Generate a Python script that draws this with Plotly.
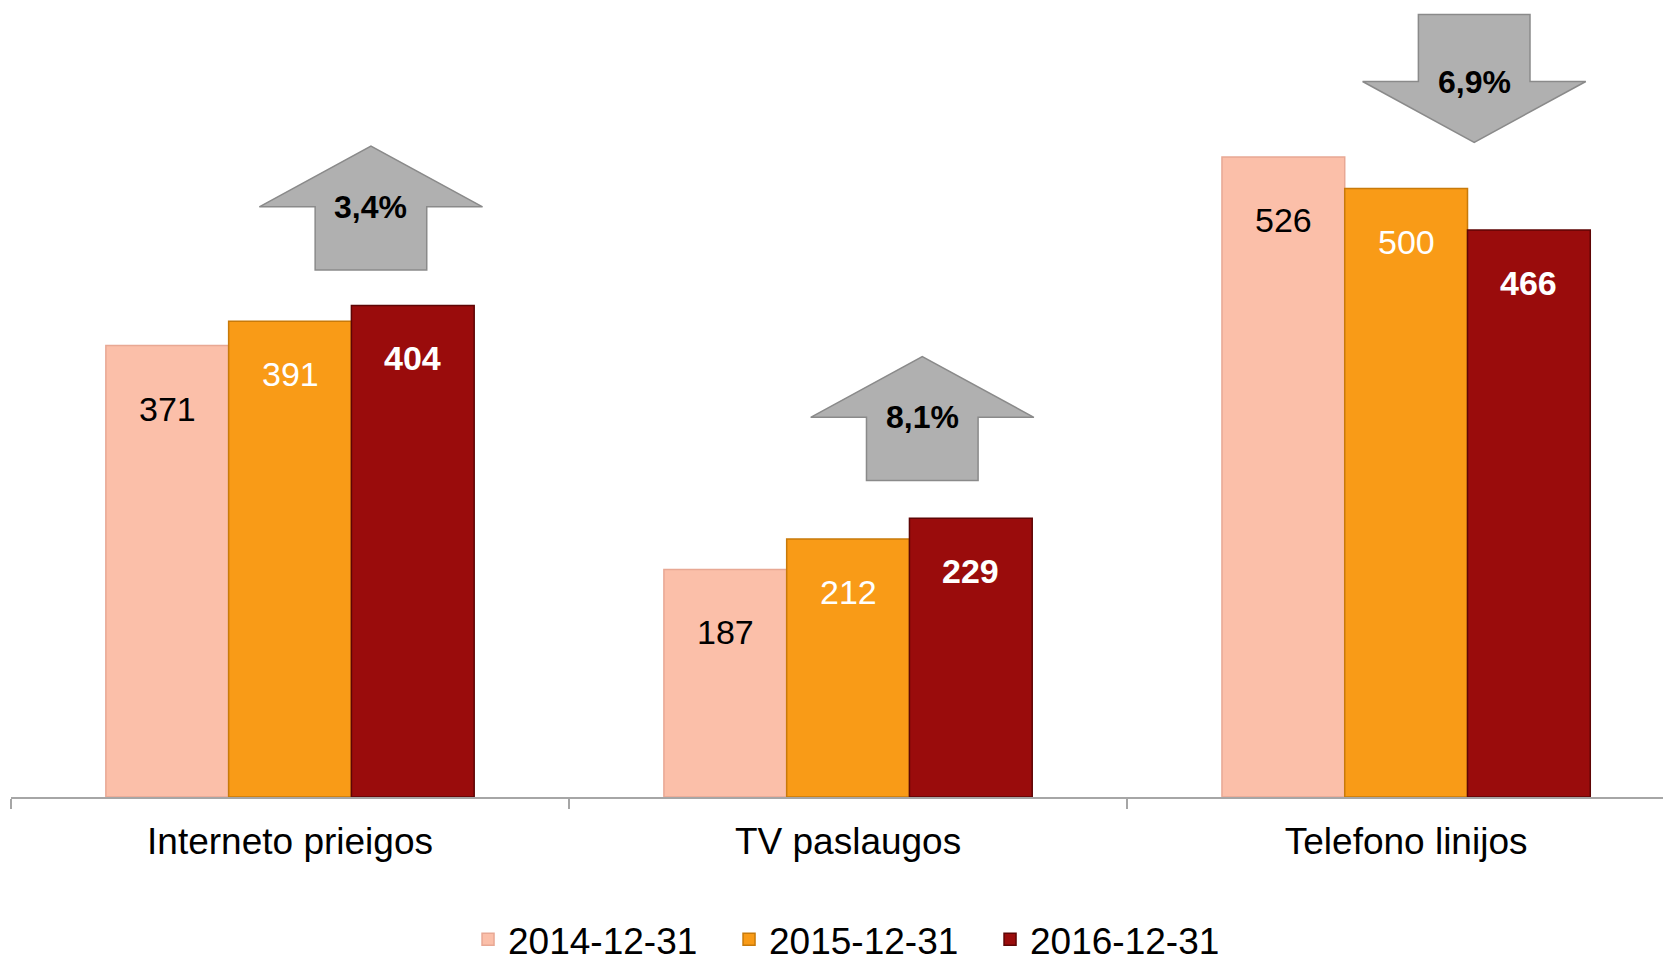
import plotly.graph_objects as go

categories = ["Interneto prieigos", "TV paslaugos", "Telefono linijos"]
series_names = ["2014-12-31", "2015-12-31", "2016-12-31"]
values_2014 = [371, 187, 526]
values_2015 = [391, 212, 500]
values_2016 = [404, 229, 466]
change_labels = ["3,4%", "8,1%", "6,9%"]
change_dirs = ["up", "up", "down"]

series_values = [values_2014, values_2015, values_2016]
colors = ["#FBBFA9", "#F99B17", "#9A0C0C"]
line_colors = ["#E8A894", "#C87A0A", "#5E0505"]
label_colors = ["black", "white", "white"]
label_bold = [False, False, True]
label_shift = [-63, -53, -53]

FONT = "Liberation Sans, Arial, sans-serif"
fig = go.Figure()
for s, name in enumerate(series_names):
    fig.add_trace(go.Bar(
        x=list(range(len(categories))), y=series_values[s], name=name,
        marker=dict(color=colors[s], line=dict(color=line_colors[s], width=1.5)),
        hoverinfo="x+y",
    ))

bar_w = 0.22
annotations = []
for s in range(3):
    for i, v in enumerate(series_values[s]):
        txt = f"<b>{v}</b>" if label_bold[s] else str(v)
        annotations.append(dict(
            x=i + (s - 1) * bar_w, y=v, xref="x", yref="y", text=txt,
            showarrow=False, yshift=label_shift[s], yanchor="middle",
            font=dict(family=FONT, size=34, color=label_colors[s]),
        ))

# arrows
arrow_dx = [0.145, 0.133, 0.122]
arrow_gap = [29, 31, 12]
half_w, half_body = 0.20, 0.10
body_h, head_h = 52, 50
shapes = []
for i in range(3):
    cx = i + arrow_dx[i]
    top_val = max(s[i] for s in series_values)
    base = top_val + arrow_gap[i]
    if change_dirs[i] == "up":
        mid = base + body_h
        tip = mid + head_h
        path = (f"M {cx-half_body},{base} L {cx+half_body},{base} L {cx+half_body},{mid} "
                f"L {cx+half_w},{mid} L {cx},{tip} L {cx-half_w},{mid} L {cx-half_body},{mid} Z")
        ty = mid
    else:
        tip = base
        mid = tip + head_h
        top = mid + body_h + 3
        path = (f"M {cx-half_body},{top} L {cx+half_body},{top} L {cx+half_body},{mid} "
                f"L {cx+half_w},{mid} L {cx},{tip} L {cx-half_w},{mid} L {cx-half_body},{mid} Z")
        ty = mid
    shapes.append(dict(type="path", path=path, xref="x", yref="y",
                       fillcolor="#B0B0B0", line=dict(color="#8A8A8A", width=1.5)))
    annotations.append(dict(x=cx, y=ty, xref="x", yref="y", text=f"<b>{change_labels[i]}</b>",
                            showarrow=False, font=dict(family=FONT, size=32, color="black")))

fig.update_layout(
    width=1671, height=960,
    margin=dict(l=3, r=0, t=0, b=171, autoexpand=False),
    paper_bgcolor="white", plot_bgcolor="white",
    barmode="group", bargap=0.34, bargroupgap=0.0,
    font=dict(family=FONT, color="black"),
    shapes=shapes, annotations=annotations,
    showlegend=True,
    legend=dict(orientation="h", x=0.2740, xanchor="left", y=-0.1810, yanchor="middle",
                font=dict(family=FONT, size=37, color="black"), itemwidth=30,
                entrywidth=216, traceorder="normal"),
    xaxis=dict(
        range=[-0.5, 2.489], tickmode="array", tickvals=[0, 1, 2], ticktext=categories,
        showline=True, linecolor="#A6A6A6", linewidth=1.5,
        ticks="", showgrid=False, zeroline=False, automargin=False,
        tickfont=dict(family=FONT, size=37, color="black"),
        minor=dict(tickmode="array", tickvals=[-0.5, 0.5, 1.5, 2.5], ticks="outside",
                   ticklen=10, tickcolor="#A6A6A6", tickwidth=1.5, showgrid=False),
        ticklabelstandoff=11,
    ),
    yaxis=dict(range=[0, 648.4], visible=False, showgrid=False, zeroline=False, automargin=False),
)
fig.write_html("out.html")
